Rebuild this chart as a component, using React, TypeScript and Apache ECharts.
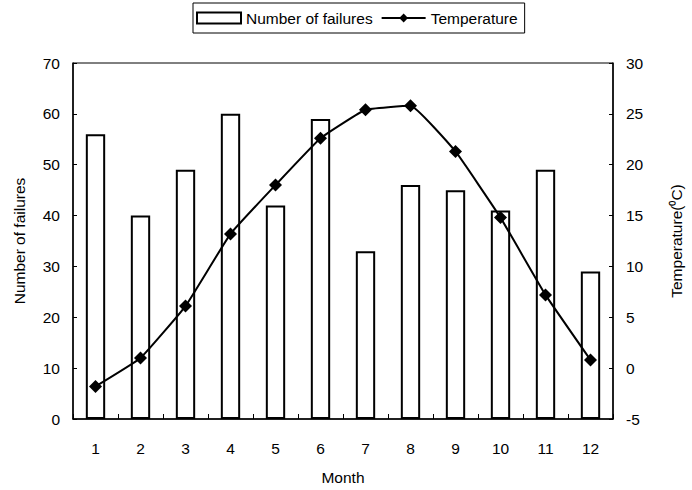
import React, { useEffect, useRef } from "react";
import * as echarts from "echarts";

const months = ["1", "2", "3", "4", "5", "6", "7", "8", "9", "10", "11", "12"];
const failures = [56, 40, 49, 60, 42, 59, 33, 46, 45, 41, 49, 29];
const temperature = [-1.8, 1.0, 6.1, 13.2, 18.0, 22.6, 25.4, 25.8, 21.3, 14.8, 7.2, 0.8];

const FONT = "'Liberation Sans', Arial, sans-serif";

export default function App() {
  const ref = useRef<HTMLDivElement>(null);
  useEffect(() => {
    if (!ref.current) return;
    const chart = echarts.init(ref.current, null, { renderer: "svg" });
    chart.setOption({
      animation: false,
      backgroundColor: "#ffffff",
      textStyle: { fontFamily: FONT },
      legend: {
        left: 193,
        top: 3,
        padding: [7, 7, 7, 3],
        itemGap: 8,
        itemWidth: 44,
        itemHeight: 11,
        borderColor: "#000",
        borderWidth: 1,
        borderRadius: 0,
        textStyle: { fontFamily: FONT, fontSize: 15.5, color: "#000" },
        data: [
          { name: "Number of failures", icon: "rect" },
          { name: "Temperature" },
        ],
      },
      grid: {
        left: 73,
        right: 75,
        top: 63,
        bottom: 68,
        show: true,
        borderColor: "#000",
        borderWidth: 1,
        containLabel: false,
      },
      xAxis: {
        type: "category",
        data: months,
        name: "Month",
        nameLocation: "middle",
        nameGap: 50,
        nameTextStyle: { fontFamily: FONT, fontSize: 15.5, color: "#000" },
        axisLine: { lineStyle: { color: "#000", width: 1.5 } },
        axisTick: { show: true, inside: true, length: 5, lineStyle: { color: "#000" } },
        axisLabel: { color: "#000", fontSize: 15.5, fontFamily: FONT, margin: 21 },
        splitLine: { show: false },
      },
      yAxis: [
        {
          type: "value",
          min: 0,
          max: 70,
          interval: 10,
          name: "Number of failures",
          nameLocation: "middle",
          nameGap: 46,
          nameTextStyle: { fontFamily: FONT, fontSize: 15.5, color: "#000" },
          axisLine: { show: true, lineStyle: { color: "#000", width: 1.5 } },
          axisTick: { show: true, inside: true, length: 4, lineStyle: { color: "#000" } },
          axisLabel: { color: "#000", fontSize: 15.5, fontFamily: FONT, margin: 13 },
          splitLine: { show: false },
        },
        {
          type: "value",
          min: -5,
          max: 30,
          interval: 5,
          name: "Temperature(\u2070C)",
          nameLocation: "middle",
          nameGap: 55,
          nameRotate: 90,
          nameTextStyle: { fontFamily: FONT, fontSize: 15.5, color: "#000" },
          axisLine: { show: true, lineStyle: { color: "#000", width: 1.5 } },
          axisTick: { show: true, inside: true, length: 4, lineStyle: { color: "#000" } },
          axisLabel: { color: "#000", fontSize: 15.5, fontFamily: FONT, margin: 13 },
          splitLine: { show: false },
        },
      ],
      series: [
        {
          name: "Number of failures",
          type: "bar",
          yAxisIndex: 0,
          data: failures,
          barWidth: "43%",
          itemStyle: { color: "#ffffff", borderColor: "#000", borderWidth: 2 },
        },
        {
          name: "Temperature",
          type: "line",
          yAxisIndex: 1,
          data: temperature,
          smooth: 0.1,
          symbol: "diamond",
          symbolSize: 13,
          itemStyle: { color: "#000" },
          lineStyle: { color: "#000", width: 2 },
        },
      ],
    });
    return () => chart.dispose();
  }, []);
  return <div ref={ref} style={{ width: 692, height: 490, position: "absolute", left: 0, top: 0 }} />;
}
